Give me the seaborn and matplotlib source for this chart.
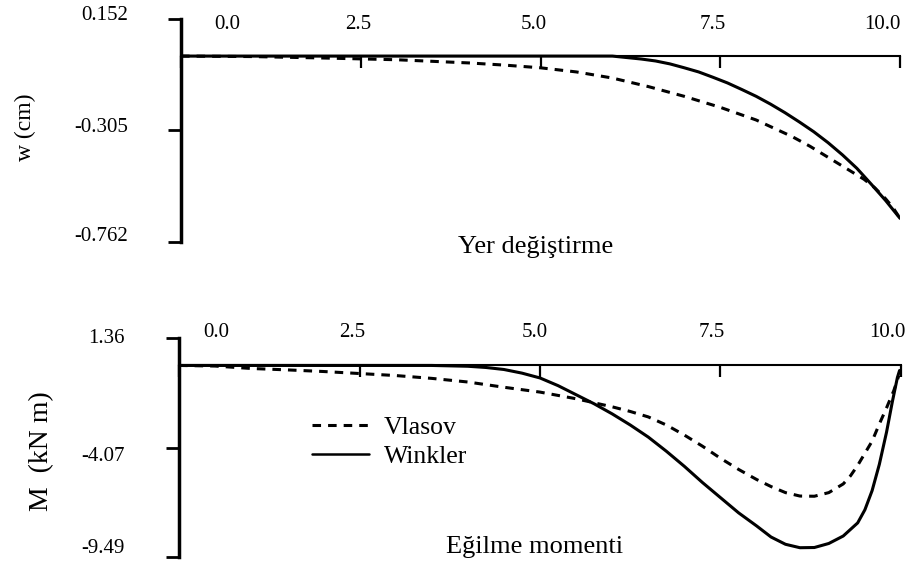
import matplotlib
matplotlib.use("Agg")
import matplotlib.pyplot as plt
from matplotlib.lines import Line2D
from matplotlib import transforms
import pandas as pd
import seaborn as sns

# ---------------- data ----------------
# Displacement w (cm) along the beam (m)
w_x_winkler = [0.0, 1.0, 2.0, 3.0, 4.0, 5.0, 6.0, 6.2, 6.4, 6.6, 6.8, 7.0, 7.2, 7.4, 7.6, 7.8, 8.0,
               8.2, 8.4, 8.6, 8.8, 9.0, 9.2, 9.4, 9.6, 9.8, 10.0]
w_winkler = [0.0, 0.0, 0.0, 0.0, 0.0, 0.0, 0.0, -0.006, -0.012, -0.02, -0.032, -0.048, -0.065, -0.087,
             -0.11, -0.137, -0.165, -0.197, -0.232, -0.27, -0.31, -0.355, -0.405, -0.46, -0.525,
             -0.592, -0.665]
w_x_vlasov = [0.0, 1.0, 2.0, 3.0, 4.0, 4.5, 5.0, 5.5, 6.0, 6.5, 7.0, 7.5, 8.0, 8.5, 8.75, 9.0, 9.25,
              9.5, 9.65, 9.8, 9.9, 10.0]
w_vlasov = [0.0, -0.002, -0.008, -0.015, -0.028, -0.037, -0.048, -0.065, -0.09, -0.125, -0.165,
            -0.21, -0.262, -0.33, -0.37, -0.415, -0.46, -0.505, -0.54, -0.585, -0.62, -0.665]

# Bending moment M (kN m) along the beam (m)
m_x_winkler = [0.0, 1.0, 2.0, 3.0, 3.5, 4.0, 4.25, 4.5, 4.75, 5.0, 5.25, 5.5, 5.75, 6.0, 6.25, 6.5,
               6.75, 7.0, 7.25, 7.5, 7.75, 8.0, 8.2, 8.4, 8.6, 8.8, 9.0, 9.2, 9.4, 9.5, 9.6, 9.7,
               9.8, 9.88, 9.95, 9.98]
m_winkler = [0.0, 0.0, 0.0, 0.0, 0.0, -0.04, -0.1, -0.2, -0.38, -0.62, -1.0, -1.45, -1.9, -2.4,
             -2.95, -3.55, -4.25, -5.0, -5.8, -6.55, -7.3, -7.95, -8.5, -8.86, -9.03, -9.02,
             -8.82, -8.45, -7.8, -7.15, -6.2, -4.9, -3.3, -1.8, -0.6, -0.25]
m_x_vlasov = [0.0, 0.5, 1.0, 1.5, 2.0, 2.5, 3.0, 3.5, 4.0, 4.5, 5.0, 5.5, 6.0, 6.25, 6.5, 6.75, 7.0,
              7.25, 7.5, 7.75, 8.0, 8.2, 8.4, 8.6, 8.8, 9.0, 9.2, 9.3, 9.4, 9.5, 9.6, 9.7, 9.8,
              9.9, 9.97]
m_vlasov = [0.0, -0.03, -0.15, -0.22, -0.3, -0.4, -0.5, -0.64, -0.82, -1.08, -1.32, -1.65, -2.05,
            -2.28, -2.55, -2.95, -3.45, -4.0, -4.6, -5.15, -5.65, -6.0, -6.3, -6.47, -6.48, -6.3,
            -5.87, -5.47, -4.95, -4.35, -3.75, -2.9, -2.1, -1.25, -0.5]

x_ticks = [0.0, 2.5, 5.0, 7.5, 10.0]
x_tick_labels = ["0.0", "2.5", "5.0", "7.5", "10.0"]
w_ticks = [0.152, -0.305, -0.762]
w_tick_labels = ["0.152", "-0.305", "-0.762"]
m_ticks = [1.36, -4.07, -9.49]
m_tick_labels = ["1.36", "-4.07", "-9.49"]
series_names = ["Vlasov", "Winkler"]

# ---------------- layout (not data) ----------------
W, H = 910, 569
top_label_pos = [0.64, 2.46, 4.91, 7.40, 9.75]
bot_label_pos = [0.51, 2.40, 4.93, 7.38, 9.81]

sns.set_theme(style="white")
plt.rcParams['font.family'] = ['Liberation Serif', 'DejaVu Serif']
plt.rcParams['axes.edgecolor'] = 'black'
plt.rcParams['xtick.color'] = 'black'
plt.rcParams['ytick.color'] = 'black'
plt.rcParams['text.color'] = 'black'
plt.rcParams['lines.solid_joinstyle'] = 'round'
plt.rcParams['lines.dash_joinstyle'] = 'round'

fig = plt.figure(figsize=(W / 100, H / 100), dpi=100)
fig.patch.set_facecolor('white')

ax_w = fig.add_axes([181 / W, 1 - 242 / H, 719 / W, 223 / H])
ax_m = fig.add_axes([179 / W, 1 - 557 / H, 722 / W, 219 / H])

LW = 2.2
DASH = (2.8, 2.3)


def long_df(xv, yv, xw, yw):
    return pd.concat([
        pd.DataFrame({'x': xv, 'y': yv, 'model': series_names[0]}),
        pd.DataFrame({'x': xw, 'y': yw, 'model': series_names[1]}),
    ], ignore_index=True)


def draw(ax, df):
    sns.lineplot(data=df, x='x', y='y', style='model', style_order=series_names,
                 dashes={series_names[0]: DASH, series_names[1]: ''},
                 color='black', linewidth=LW, legend=False, estimator=None,
                 sort=False, ax=ax)


def style_axes(ax, yticks, ylabels, ylim, label_pos, pad_top, pad_y, offsets):
    ax.set_facecolor('white')
    ax.set_xlim(0, 10)
    ax.set_ylim(*ylim)
    ax.set_xlabel('')
    ax.set_ylabel('')
    for s in ['top', 'right']:
        ax.spines[s].set_visible(False)
    ax.spines['bottom'].set_position(('data', 0))
    ax.spines['bottom'].set_linewidth(1.5)
    ax.spines['left'].set_linewidth(2.5)
    ax.set_xticks(x_ticks)
    ax.tick_params(axis='x', direction='out', length=8.5, width=1.6,
                   bottom=True, labelbottom=False)
    ax.set_yticks(yticks, ylabels)
    ax.tick_params(axis='y', direction='out', length=9.4, width=2.0,
                   left=True, pad=pad_y, labelsize=15)
    for lab in ax.get_yticklabels():
        dy = offsets.get(lab.get_text(), 0)
        lab.set_transform(lab.get_transform() +
                          transforms.ScaledTranslation(0, dy / 100, fig.dpi_scale_trans))
    sec = ax.secondary_xaxis('top')
    sec.set_xticks(label_pos, x_tick_labels)
    sec.tick_params(length=0, pad=pad_top, labelsize=15)
    for s in sec.spines.values():
        s.set_visible(False)


draw(ax_w, long_df(w_x_vlasov, w_vlasov, w_x_winkler, w_winkler))
draw(ax_m, long_df(m_x_vlasov, m_vlasov, m_x_winkler, m_winkler))

style_axes(ax_w, w_ticks, w_tick_labels, (w_ticks[-1], w_ticks[0]), top_label_pos,
           pad_top=-10.5, pad_y=28.5, offsets={"0.152": 6, "-0.305": 6, "-0.762": 8})
style_axes(ax_m, m_ticks, m_tick_labels, (m_ticks[-1], m_ticks[0]), bot_label_pos,
           pad_top=-3.2, pad_y=30, offsets={"1.36": 2, "-4.07": -6, "-9.49": 11})

handles = [Line2D([], [], color='black', linewidth=LW, dashes=DASH),
           Line2D([], [], color='black', linewidth=1.8)]
ax_m.legend(handles, series_names, loc='center left',
            bbox_to_anchor=((312 - 179) / 722, (557 - 442) / 219),
            frameon=False, fontsize=18.5, handlelength=2.2, handletextpad=0.6,
            labelspacing=0.2, borderpad=0, borderaxespad=0)

fig.text(25 / W, 1 - 127 / H, "w (cm)", rotation=90, ha='center', va='center', fontsize=17)
fig.text(42 / W, 1 - 451 / H, "M  (kN m)", rotation=90, ha='center', va='center', fontsize=20)
fig.text(536 / W, 1 - 253 / H, "Yer değiştirme", ha='center', va='baseline', fontsize=19)
fig.text(534.5 / W, 1 - 553 / H, "Eğilme momenti", ha='center', va='baseline', fontsize=19)

fig.savefig("out.png", dpi=100, facecolor='white')
